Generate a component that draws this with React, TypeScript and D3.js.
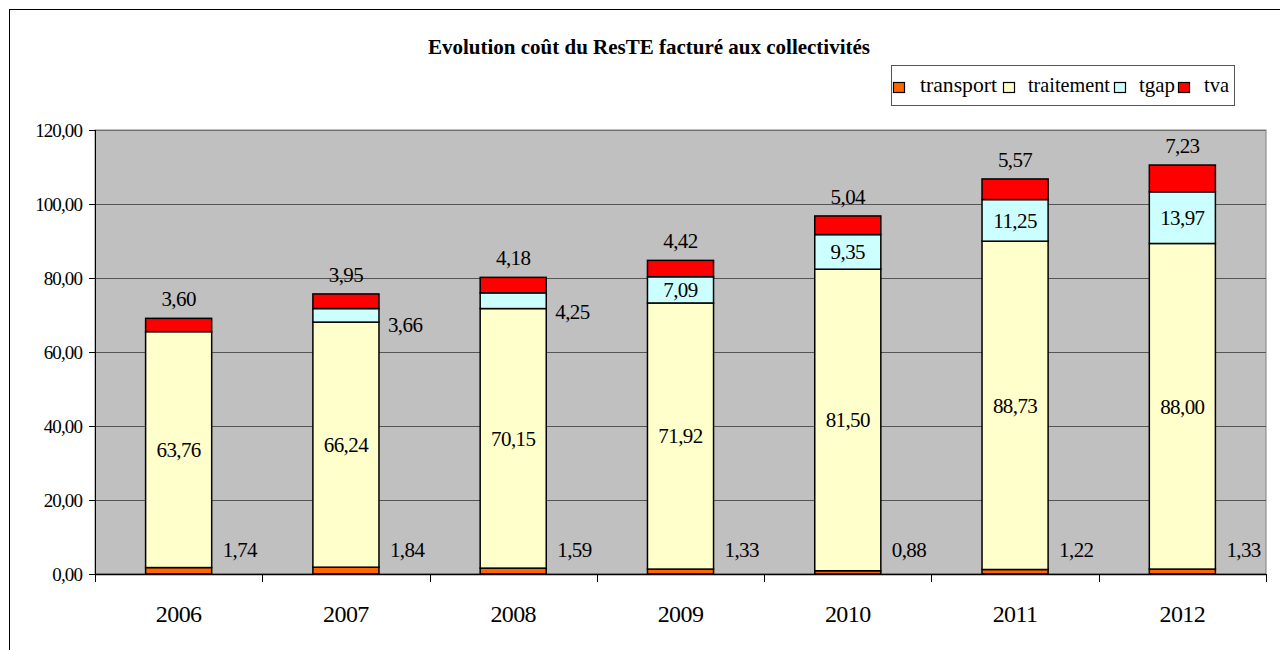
import React from "react";
import * as d3 from "d3";

const years = ["2006", "2007", "2008", "2009", "2010", "2011", "2012"];
const transport = [1.74, 1.84, 1.59, 1.33, 0.88, 1.22, 1.33];
const traitement = [63.76, 66.24, 70.15, 71.92, 81.5, 88.73, 88.0];
const tgap = [0, 3.66, 4.25, 7.09, 9.35, 11.25, 13.97];
const tva = [3.6, 3.95, 4.18, 4.42, 5.04, 5.57, 7.23];
const yTicks = [0, 20, 40, 60, 80, 100, 120];
const seriesNames = ["transport", "traitement", "tgap", "tva"];
const seriesColors = ["#FF6600", "#FFFFCC", "#CCFFFF", "#FF0000"];
const title = "Evolution coût du ResTE facturé aux collectivités";

const FONT = "Liberation Serif";
const fmt = (v: number) => v.toFixed(2).replace(".", ",");

export default function App() {
  const left = 95, right = 1266, top = 130, bottom = 574;
  const x = d3.scaleBand<string>().domain(years).range([left, right]).paddingInner(0.605).paddingOuter(0.3025);
  const xb = d3.scaleBand<string>().domain(years).range([left, right]).padding(0);
  const y = d3.scaleLinear().domain([0, 120]).range([bottom, top]);
  const bw = x.bandwidth();

  const rows = years.map((yr, i) => ({ yr, vals: [transport[i], traitement[i], tgap[i], tva[i]] }));
  const stack = d3.stack<any>().keys([0, 1, 2, 3] as any).value((d: any, k: any) => d.vals[k]);
  const stacked = stack(rows as any);

  const legendText = [
    { x: 920, w: 77 },
    { x: 1028, w: 82 },
    { x: 1139, w: 36 },
    { x: 1204, w: 25 },
  ];
  const legendSw = [893, 1003, 1114, 1178];

  const boundaries = [...years.map((yr) => xb(yr) as number), right];
  const tf = { fontFamily: FONT } as any;

  return (
    <div style={{ position: "absolute", left: 0, top: 0 }}>
      <svg width={1280} height={650} style={{ display: "block", background: "#fff" }}>
        <rect x={9.5} y={9.5} width={1300} height={700} fill="#fff" stroke="#000" strokeWidth={1} />
        <text x={649} y={54} textAnchor="middle" fontSize={22} fontWeight="bold" textLength={442} lengthAdjust="spacingAndGlyphs" style={tf}>
          {title}
        </text>
        {/* legend */}
        <rect x={891.5} y={65.5} width={343} height={40} fill="#fff" stroke="#555" strokeWidth={1} />
        {seriesNames.map((n, i) => (
          <g key={n}>
            <rect x={legendSw[i] + 0.5} y={82.5} width={11} height={10} fill={seriesColors[i]} stroke="#000" strokeWidth={1.2} />
            <text x={legendText[i].x} y={92} fontSize={21} textLength={legendText[i].w} lengthAdjust="spacingAndGlyphs" style={tf}>
              {n}
            </text>
          </g>
        ))}
        {/* plot area */}
        <rect x={left} y={top} width={right - left} height={bottom - top} fill="#C0C0C0" stroke="#808080" strokeWidth={1} />
        {yTicks.filter((t) => t > 0).map((t) => (
          <line key={t} x1={left} x2={right} y1={Math.round(y(t)) + 0.5} y2={Math.round(y(t)) + 0.5} stroke={t === 120 ? "#707070" : "#555"} strokeWidth={1} />
        ))}
        {/* bars */}
        {stacked.map((layer: any, si: number) =>
          layer.map((d: any, i: number) => {
            const v = d[1] - d[0];
            if (v <= 0) return null;
            return (
              <rect key={si + "-" + i} x={x(years[i])} y={y(d[1])} width={bw} height={y(d[0]) - y(d[1])} fill={seriesColors[si]} stroke="#000" strokeWidth={1.5} />
            );
          })
        )}
        {/* axes */}
        <line x1={left + 0.5} x2={left + 0.5} y1={top} y2={bottom} stroke="#000" strokeWidth={1} />
        <line x1={left} x2={right} y1={bottom + 0.5} y2={bottom + 0.5} stroke="#000" strokeWidth={1.5} />
        {yTicks.map((t) => (
          <g key={t}>
            <line x1={left - 6} x2={left} y1={Math.round(y(t)) + 0.5} y2={Math.round(y(t)) + 0.5} stroke="#000" />
            <text x={82} y={y(t)} dy="0.35em" textAnchor="end" fontSize={19} letterSpacing={-0.9} style={tf}>
              {fmt(t)}
            </text>
          </g>
        ))}
        {boundaries.map((bx, i) => (
          <line key={i} x1={Math.round(bx) + 0.5} x2={Math.round(bx) + 0.5} y1={bottom} y2={bottom + 8} stroke="#000" />
        ))}
        {years.map((yr) => (
          <text key={yr} x={(x(yr) as number) + bw / 2} y={622} textAnchor="middle" fontSize={24} letterSpacing={-0.6} style={tf}>
            {yr}
          </text>
        ))}
        {/* data labels */}
        {years.map((yr, i) => {
          const x0 = x(yr) as number;
          const cx = x0 + bw / 2;
          const rx = x0 + bw;
          const s1 = transport[i];
          const s2 = s1 + traitement[i];
          const s3 = s2 + tgap[i];
          const s4 = s3 + tva[i];
          const lbl = { fontSize: 21, letterSpacing: -0.6, style: tf } as any;
          return (
            <g key={yr}>
              <text x={rx + 11} y={y(0) - 17} {...lbl}>{fmt(transport[i])}</text>
              <text x={cx} y={y((s1 + s2) / 2)} dy="0.35em" textAnchor="middle" {...lbl}>{fmt(traitement[i])}</text>
              {tgap[i] > 0 && (tgap[i] >= 5 ? (
                <text x={cx} y={y((s2 + s3) / 2)} dy="0.35em" textAnchor="middle" {...lbl}>{fmt(tgap[i])}</text>
              ) : (
                <text x={rx + 9} y={y(s2) + 3} dy="0.35em" {...lbl}>{fmt(tgap[i])}</text>
              ))}
              <text x={cx} y={y(s4) - 12} textAnchor="middle" {...lbl}>{fmt(tva[i])}</text>
            </g>
          );
        })}
      </svg>
    </div>
  );
}
